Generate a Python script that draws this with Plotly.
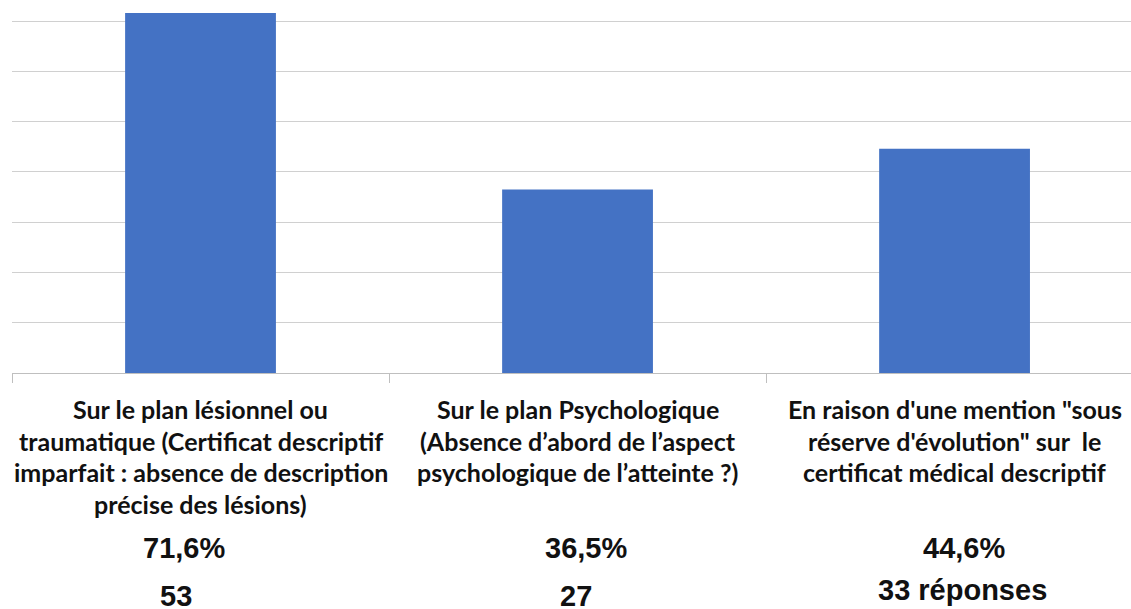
import plotly.graph_objects as go

categories = ["cat1", "cat2", "cat3"]
label_lines = [
    ["Sur le plan lésionnel ou", "traumatique (Certificat descriptif",
     "imparfait : absence de description", "précise des lésions)"],
    ["Sur le plan Psychologique", "(Absence d’abord de l’aspect",
     "psychologique de l’atteinte ?)"],
    ["En raison d'une mention \"sous", "réserve d'évolution\" sur  le",
     "certificat médical descriptif"],
]
percent_values = [71.6, 36.5, 44.6]
percent_labels = ["71,6%", "36,5%", "44,6%"]
count_labels = ["53", "27", "33 réponses"]

W, H = 1131, 609
plot_top, plot_bottom = 0, 373
plot_h = plot_bottom - plot_top

def py(p):
    return (plot_bottom - p) / plot_h

fig = go.Figure()
fig.add_trace(go.Bar(
    x=categories, y=percent_values, width=0.4,
    marker=dict(color="#4472C4", line=dict(width=0)),
))

annotations = []
line_y = [409, 441, 472, 504]
pct_shift = [-17, 8, 9]
cnt_shift = [-25, -2, 8]
cnt_y = [596, 596, 590]
for i, lines in enumerate(label_lines):
    for j, t in enumerate(lines):
        annotations.append(dict(
            x=i, y=py(line_y[j]), xref="x", yref="paper", text=f"<b>{t}</b>",
            showarrow=False, xanchor="center", yanchor="middle",
            font=dict(family="Lato", size=25, color="#111111"),
        ))
    annotations.append(dict(
        x=i, y=py(548), xref="x", yref="paper", text=f"<b>{percent_labels[i]}</b>",
        showarrow=False, xanchor="center", yanchor="middle", xshift=pct_shift[i],
        font=dict(family="Liberation Sans", size=29, color="#111111"),
    ))
    annotations.append(dict(
        x=i, y=py(cnt_y[i]), xref="x", yref="paper", text=f"<b>{count_labels[i]}</b>",
        showarrow=False, xanchor="center", yanchor="middle", xshift=cnt_shift[i],
        font=dict(family="Liberation Sans", size=29, color="#111111"),
    ))

fig.update_layout(
    width=W, height=H,
    margin=dict(l=12, r=0, t=plot_top, b=H - plot_bottom, pad=0),
    paper_bgcolor="white", plot_bgcolor="white",
    showlegend=False,
    annotations=annotations,
    xaxis=dict(
        type="category", range=[-0.5, 2.468], showticklabels=False,
        showline=True, linecolor="#bfbfbf", linewidth=1,
        ticks="outside", tickson="boundaries", ticklen=9, tickcolor="#bfbfbf",
        showgrid=False, fixedrange=True,
    ),
    yaxis=dict(
        range=[0, 74.2], dtick=10, showticklabels=False,
        showgrid=True, gridcolor="#d0d0d0", gridwidth=1,
        zeroline=False, showline=False, fixedrange=True,
    ),
)

fig.write_html(
    "out.html",
    config={"displayModeBar": False},
    post_script="document.body.style.margin='0';document.body.style.overflow='hidden';",
)
